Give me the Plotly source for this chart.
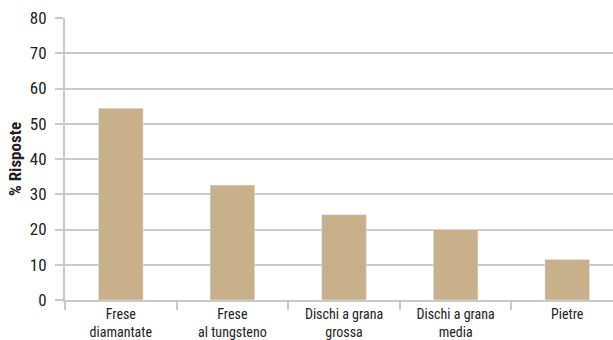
import plotly.graph_objects as go

categories = ["Frese<br>diamantate", "Frese<br>al tungsteno", "Dischi a grana<br>grossa", "Dischi a grana<br>media", "Pietre"]
values = [54.4, 32.6, 24.2, 20.0, 11.5]
y_ticks = [0, 10, 20, 30, 40, 50, 60, 70, 80]

FONT = "Roboto Condensed, Liberation Sans Narrow, sans-serif"
GRID = "#c9c9c9"

fig = go.Figure(go.Bar(x=categories, y=values, marker_color="#c7b08a", width=0.40))

fig.update_layout(
    width=613, height=340,
    margin=dict(l=65, r=0, t=18, b=38),
    paper_bgcolor="white", plot_bgcolor="white",
    showlegend=False,
    font=dict(family=FONT, color="#222222"),
)
fig.update_xaxes(
    type="category", range=[-0.5, 4.41],
    tickson="boundaries", ticks="outside", ticklen=8, tickcolor=GRID, tickwidth=2,
    showline=True, linecolor=GRID, linewidth=2,
    showgrid=False, tickfont=dict(size=14, family=FONT),
)
fig.update_yaxes(
    range=[0, 80], tickvals=y_ticks,
    ticks="outside", ticklen=8, tickcolor=GRID, tickwidth=2,
    ticklabelstandoff=5,
    showline=True, linecolor=GRID, linewidth=2,
    showgrid=True, gridcolor=GRID, gridwidth=2, zeroline=False,
    tickfont=dict(size=17, family=FONT),
    title=dict(text="<b>% Risposte</b>", font=dict(size=17, family=FONT), standoff=4),
)

fig.write_html("out.html")
